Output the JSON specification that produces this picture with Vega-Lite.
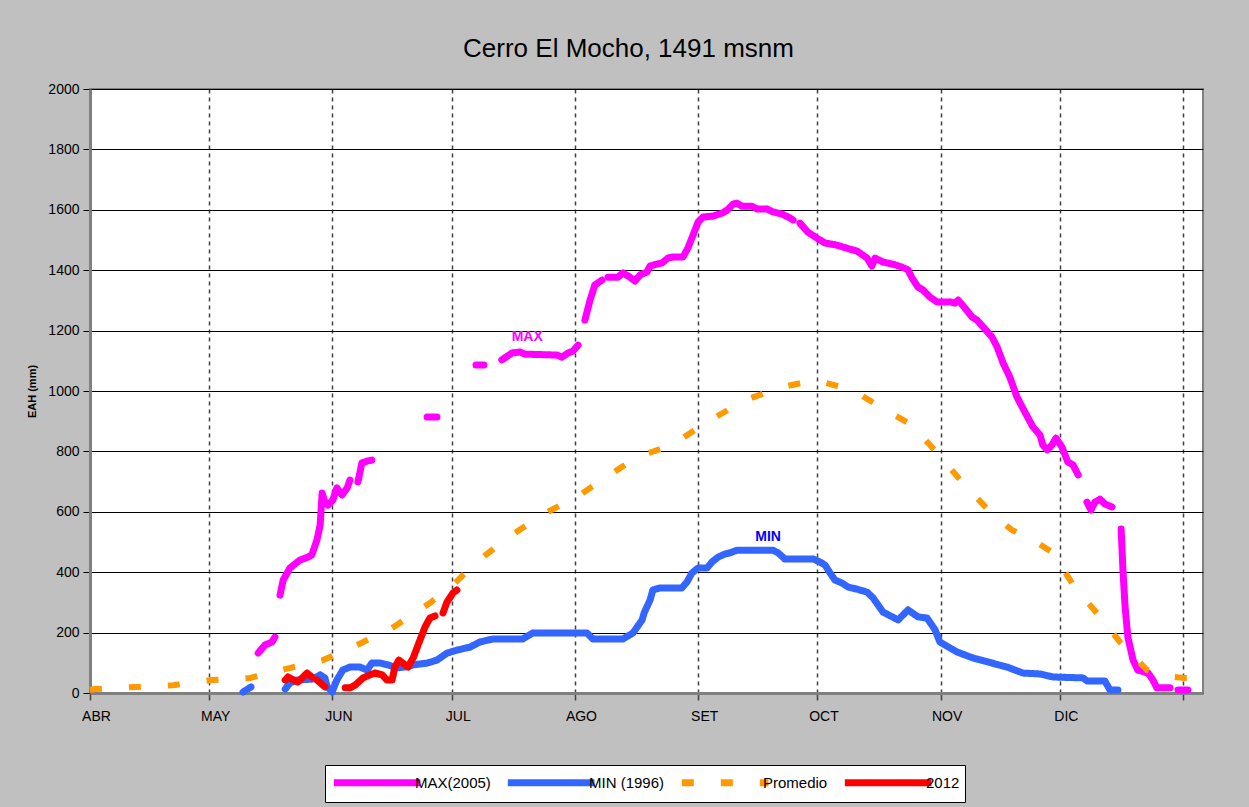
{
  "$schema": "https://vega.github.io/schema/vega-lite/v6.json",
  "width": 1113,
  "height": 604,
  "autosize": {"type": "none"},
  "padding": {"left": 90, "top": 89, "right": 46, "bottom": 114},
  "background": "#c0c0c0",
  "title": {"text": "Cerro El Mocho, 1491 msnm", "fontSize": 26, "font": "Liberation Sans", "fontWeight": "normal", "color": "#000000", "anchor": "middle", "frame": "group", "offset": 20, "dx": -18},
  "config": {"view": {"fill": "white", "stroke": "#808080", "strokeWidth": 2}, "font": "Liberation Sans"},
  "datasets": {
    "series": [
      {"serie": "MAX(2005)", "tramo": "m1", "dia": 42.3, "valor": 132}, {"serie": "MAX(2005)", "tramo": "m1", "dia": 44.0, "valor": 159}, {"serie": "MAX(2005)", "tramo": "m1", "dia": 45.8, "valor": 169}, {"serie": "MAX(2005)", "tramo": "m1", "dia": 46.5, "valor": 185},
      {"serie": "MAX(2005)", "tramo": "m2", "dia": 47.8, "valor": 324}, {"serie": "MAX(2005)", "tramo": "m2", "dia": 48.6, "valor": 374}, {"serie": "MAX(2005)", "tramo": "m2", "dia": 50.3, "valor": 414}, {"serie": "MAX(2005)", "tramo": "m2", "dia": 52.8, "valor": 440}, {"serie": "MAX(2005)", "tramo": "m2", "dia": 54.8, "valor": 450}, {"serie": "MAX(2005)", "tramo": "m2", "dia": 55.8, "valor": 457}, {"serie": "MAX(2005)", "tramo": "m2", "dia": 57.1, "valor": 507}, {"serie": "MAX(2005)", "tramo": "m2", "dia": 57.9, "valor": 556}, {"serie": "MAX(2005)", "tramo": "m2", "dia": 58.4, "valor": 662}, {"serie": "MAX(2005)", "tramo": "m2", "dia": 59.1, "valor": 632}, {"serie": "MAX(2005)", "tramo": "m2", "dia": 59.9, "valor": 622}, {"serie": "MAX(2005)", "tramo": "m2", "dia": 61.1, "valor": 639}, {"serie": "MAX(2005)", "tramo": "m2", "dia": 62.1, "valor": 679}, {"serie": "MAX(2005)", "tramo": "m2", "dia": 63.4, "valor": 656}, {"serie": "MAX(2005)", "tramo": "m2", "dia": 64.7, "valor": 679}, {"serie": "MAX(2005)", "tramo": "m2", "dia": 65.4, "valor": 705},
      {"serie": "MAX(2005)", "tramo": "m3", "dia": 67.4, "valor": 699}, {"serie": "MAX(2005)", "tramo": "m3", "dia": 68.4, "valor": 762}, {"serie": "MAX(2005)", "tramo": "m3", "dia": 69.7, "valor": 768}, {"serie": "MAX(2005)", "tramo": "m3", "dia": 70.9, "valor": 771},
      {"serie": "MAX(2005)", "tramo": "m4", "dia": 84.8, "valor": 914}, {"serie": "MAX(2005)", "tramo": "m4", "dia": 87.3, "valor": 914},
      {"serie": "MAX(2005)", "tramo": "m5", "dia": 97.1, "valor": 1086}, {"serie": "MAX(2005)", "tramo": "m5", "dia": 99.1, "valor": 1086},
      {"serie": "MAX(2005)", "tramo": "m6", "dia": 103.6, "valor": 1103}, {"serie": "MAX(2005)", "tramo": "m6", "dia": 106.2, "valor": 1126}, {"serie": "MAX(2005)", "tramo": "m6", "dia": 108.2, "valor": 1129}, {"serie": "MAX(2005)", "tramo": "m6", "dia": 109.4, "valor": 1122}, {"serie": "MAX(2005)", "tramo": "m6", "dia": 117.5, "valor": 1119}, {"serie": "MAX(2005)", "tramo": "m6", "dia": 118.7, "valor": 1112}, {"serie": "MAX(2005)", "tramo": "m6", "dia": 120.3, "valor": 1126}, {"serie": "MAX(2005)", "tramo": "m6", "dia": 121.5, "valor": 1132}, {"serie": "MAX(2005)", "tramo": "m6", "dia": 122.8, "valor": 1152},
      {"serie": "MAX(2005)", "tramo": "m7", "dia": 124.5, "valor": 1235}, {"serie": "MAX(2005)", "tramo": "m7", "dia": 125.8, "valor": 1301}, {"serie": "MAX(2005)", "tramo": "m7", "dia": 127.0, "valor": 1351}, {"serie": "MAX(2005)", "tramo": "m7", "dia": 128.8, "valor": 1367},
      {"serie": "MAX(2005)", "tramo": "m8", "dia": 130.3, "valor": 1377}, {"serie": "MAX(2005)", "tramo": "m8", "dia": 132.8, "valor": 1377}, {"serie": "MAX(2005)", "tramo": "m8", "dia": 134.1, "valor": 1391}, {"serie": "MAX(2005)", "tramo": "m8", "dia": 135.8, "valor": 1377}, {"serie": "MAX(2005)", "tramo": "m8", "dia": 137.1, "valor": 1364}, {"serie": "MAX(2005)", "tramo": "m8", "dia": 138.4, "valor": 1384}, {"serie": "MAX(2005)", "tramo": "m8", "dia": 140.1, "valor": 1394}, {"serie": "MAX(2005)", "tramo": "m8", "dia": 140.9, "valor": 1414}, {"serie": "MAX(2005)", "tramo": "m8", "dia": 142.6, "valor": 1420}, {"serie": "MAX(2005)", "tramo": "m8", "dia": 143.9, "valor": 1424}, {"serie": "MAX(2005)", "tramo": "m8", "dia": 145.4, "valor": 1440}, {"serie": "MAX(2005)", "tramo": "m8", "dia": 146.7, "valor": 1444}, {"serie": "MAX(2005)", "tramo": "m8", "dia": 149.2, "valor": 1444}, {"serie": "MAX(2005)", "tramo": "m8", "dia": 150.4, "valor": 1473}, {"serie": "MAX(2005)", "tramo": "m8", "dia": 151.7, "valor": 1516}, {"serie": "MAX(2005)", "tramo": "m8", "dia": 153.0, "valor": 1560}, {"serie": "MAX(2005)", "tramo": "m8", "dia": 154.2, "valor": 1576}, {"serie": "MAX(2005)", "tramo": "m8", "dia": 156.7, "valor": 1579}, {"serie": "MAX(2005)", "tramo": "m8", "dia": 159.0, "valor": 1589}, {"serie": "MAX(2005)", "tramo": "m8", "dia": 160.3, "valor": 1599}, {"serie": "MAX(2005)", "tramo": "m8", "dia": 161.8, "valor": 1619}, {"serie": "MAX(2005)", "tramo": "m8", "dia": 162.8, "valor": 1622}, {"serie": "MAX(2005)", "tramo": "m8", "dia": 164.0, "valor": 1612}, {"serie": "MAX(2005)", "tramo": "m8", "dia": 166.5, "valor": 1612}, {"serie": "MAX(2005)", "tramo": "m8", "dia": 167.8, "valor": 1603}, {"serie": "MAX(2005)", "tramo": "m8", "dia": 170.3, "valor": 1603}, {"serie": "MAX(2005)", "tramo": "m8", "dia": 171.8, "valor": 1593}, {"serie": "MAX(2005)", "tramo": "m8", "dia": 174.1, "valor": 1586}, {"serie": "MAX(2005)", "tramo": "m8", "dia": 176.1, "valor": 1573}, {"serie": "MAX(2005)", "tramo": "m8", "dia": 176.9, "valor": 1566},
      {"serie": "MAX(2005)", "tramo": "m9", "dia": 178.6, "valor": 1556}, {"serie": "MAX(2005)", "tramo": "m9", "dia": 180.6, "valor": 1526}, {"serie": "MAX(2005)", "tramo": "m9", "dia": 182.9, "valor": 1506}, {"serie": "MAX(2005)", "tramo": "m9", "dia": 184.9, "valor": 1490}, {"serie": "MAX(2005)", "tramo": "m9", "dia": 187.9, "valor": 1483}, {"serie": "MAX(2005)", "tramo": "m9", "dia": 190.4, "valor": 1473}, {"serie": "MAX(2005)", "tramo": "m9", "dia": 193.0, "valor": 1463}, {"serie": "MAX(2005)", "tramo": "m9", "dia": 195.5, "valor": 1440}, {"serie": "MAX(2005)", "tramo": "m9", "dia": 196.7, "valor": 1414}, {"serie": "MAX(2005)", "tramo": "m9", "dia": 197.5, "valor": 1440}, {"serie": "MAX(2005)", "tramo": "m9", "dia": 199.5, "valor": 1427}, {"serie": "MAX(2005)", "tramo": "m9", "dia": 202.0, "valor": 1420}, {"serie": "MAX(2005)", "tramo": "m9", "dia": 204.3, "valor": 1410}, {"serie": "MAX(2005)", "tramo": "m9", "dia": 205.8, "valor": 1401}, {"serie": "MAX(2005)", "tramo": "m9", "dia": 206.8, "valor": 1374}, {"serie": "MAX(2005)", "tramo": "m9", "dia": 208.3, "valor": 1344}, {"serie": "MAX(2005)", "tramo": "m9", "dia": 209.6, "valor": 1334}, {"serie": "MAX(2005)", "tramo": "m9", "dia": 211.3, "valor": 1311}, {"serie": "MAX(2005)", "tramo": "m9", "dia": 213.1, "valor": 1295}, {"serie": "MAX(2005)", "tramo": "m9", "dia": 216.4, "valor": 1295}, {"serie": "MAX(2005)", "tramo": "m9", "dia": 217.6, "valor": 1291}, {"serie": "MAX(2005)", "tramo": "m9", "dia": 218.4, "valor": 1301}, {"serie": "MAX(2005)", "tramo": "m9", "dia": 220.1, "valor": 1275}, {"serie": "MAX(2005)", "tramo": "m9", "dia": 221.9, "valor": 1245}, {"serie": "MAX(2005)", "tramo": "m9", "dia": 223.1, "valor": 1235}, {"serie": "MAX(2005)", "tramo": "m9", "dia": 224.7, "valor": 1212}, {"serie": "MAX(2005)", "tramo": "m9", "dia": 226.9, "valor": 1179}, {"serie": "MAX(2005)", "tramo": "m9", "dia": 228.2, "valor": 1146}, {"serie": "MAX(2005)", "tramo": "m9", "dia": 229.7, "valor": 1093}, {"serie": "MAX(2005)", "tramo": "m9", "dia": 231.4, "valor": 1046}, {"serie": "MAX(2005)", "tramo": "m9", "dia": 233.2, "valor": 980}, {"serie": "MAX(2005)", "tramo": "m9", "dia": 235.2, "valor": 930}, {"serie": "MAX(2005)", "tramo": "m9", "dia": 237.2, "valor": 881}, {"serie": "MAX(2005)", "tramo": "m9", "dia": 239.0, "valor": 854}, {"serie": "MAX(2005)", "tramo": "m9", "dia": 239.7, "valor": 821}, {"serie": "MAX(2005)", "tramo": "m9", "dia": 240.8, "valor": 805}, {"serie": "MAX(2005)", "tramo": "m9", "dia": 242.0, "valor": 821}, {"serie": "MAX(2005)", "tramo": "m9", "dia": 243.0, "valor": 844}, {"serie": "MAX(2005)", "tramo": "m9", "dia": 244.5, "valor": 815}, {"serie": "MAX(2005)", "tramo": "m9", "dia": 246.0, "valor": 765}, {"serie": "MAX(2005)", "tramo": "m9", "dia": 247.3, "valor": 755}, {"serie": "MAX(2005)", "tramo": "m9", "dia": 248.6, "valor": 722},
      {"serie": "MAX(2005)", "tramo": "m10", "dia": 250.8, "valor": 632}, {"serie": "MAX(2005)", "tramo": "m10", "dia": 251.8, "valor": 606}, {"serie": "MAX(2005)", "tramo": "m10", "dia": 252.8, "valor": 632}, {"serie": "MAX(2005)", "tramo": "m10", "dia": 254.1, "valor": 642}, {"serie": "MAX(2005)", "tramo": "m10", "dia": 255.3, "valor": 626}, {"serie": "MAX(2005)", "tramo": "m10", "dia": 257.1, "valor": 616},
      {"serie": "MAX(2005)", "tramo": "m11", "dia": 259.4, "valor": 543}, {"serie": "MAX(2005)", "tramo": "m11", "dia": 259.9, "valor": 397}, {"serie": "MAX(2005)", "tramo": "m11", "dia": 260.4, "valor": 285}, {"serie": "MAX(2005)", "tramo": "m11", "dia": 261.1, "valor": 185}, {"serie": "MAX(2005)", "tramo": "m11", "dia": 262.4, "valor": 109}, {"serie": "MAX(2005)", "tramo": "m11", "dia": 263.6, "valor": 76}, {"serie": "MAX(2005)", "tramo": "m11", "dia": 266.2, "valor": 66}, {"serie": "MAX(2005)", "tramo": "m11", "dia": 267.4, "valor": 43}, {"serie": "MAX(2005)", "tramo": "m11", "dia": 268.4, "valor": 17}, {"serie": "MAX(2005)", "tramo": "m11", "dia": 271.7, "valor": 17},
      {"serie": "MAX(2005)", "tramo": "m12", "dia": 273.7, "valor": 10}, {"serie": "MAX(2005)", "tramo": "m12", "dia": 276.2, "valor": 10},
      {"serie": "MIN (1996)", "tramo": "n1", "dia": 38.5, "valor": 3}, {"serie": "MIN (1996)", "tramo": "n1", "dia": 40.5, "valor": 20},
      {"serie": "MIN (1996)", "tramo": "n2", "dia": 49.1, "valor": 13}, {"serie": "MIN (1996)", "tramo": "n2", "dia": 50.3, "valor": 33}, {"serie": "MIN (1996)", "tramo": "n2", "dia": 52.1, "valor": 43}, {"serie": "MIN (1996)", "tramo": "n2", "dia": 56.1, "valor": 46}, {"serie": "MIN (1996)", "tramo": "n2", "dia": 57.9, "valor": 60}, {"serie": "MIN (1996)", "tramo": "n2", "dia": 59.1, "valor": 50}, {"serie": "MIN (1996)", "tramo": "n2", "dia": 59.6, "valor": 23}, {"serie": "MIN (1996)", "tramo": "n2", "dia": 60.9, "valor": 3}, {"serie": "MIN (1996)", "tramo": "n2", "dia": 62.1, "valor": 43}, {"serie": "MIN (1996)", "tramo": "n2", "dia": 63.6, "valor": 76}, {"serie": "MIN (1996)", "tramo": "n2", "dia": 65.4, "valor": 86}, {"serie": "MIN (1996)", "tramo": "n2", "dia": 67.9, "valor": 86}, {"serie": "MIN (1996)", "tramo": "n2", "dia": 69.7, "valor": 76}, {"serie": "MIN (1996)", "tramo": "n2", "dia": 70.9, "valor": 99}, {"serie": "MIN (1996)", "tramo": "n2", "dia": 73.0, "valor": 99}, {"serie": "MIN (1996)", "tramo": "n2", "dia": 75.0, "valor": 93}, {"serie": "MIN (1996)", "tramo": "n2", "dia": 77.2, "valor": 83}, {"serie": "MIN (1996)", "tramo": "n2", "dia": 79.2, "valor": 86}, {"serie": "MIN (1996)", "tramo": "n2", "dia": 81.3, "valor": 93}, {"serie": "MIN (1996)", "tramo": "n2", "dia": 84.8, "valor": 99}, {"serie": "MIN (1996)", "tramo": "n2", "dia": 87.3, "valor": 109}, {"serie": "MIN (1996)", "tramo": "n2", "dia": 89.8, "valor": 132}, {"serie": "MIN (1996)", "tramo": "n2", "dia": 92.3, "valor": 142}, {"serie": "MIN (1996)", "tramo": "n2", "dia": 95.6, "valor": 152}, {"serie": "MIN (1996)", "tramo": "n2", "dia": 98.1, "valor": 169}, {"serie": "MIN (1996)", "tramo": "n2", "dia": 101.4, "valor": 179}, {"serie": "MIN (1996)", "tramo": "n2", "dia": 108.9, "valor": 179}, {"serie": "MIN (1996)", "tramo": "n2", "dia": 111.4, "valor": 199}, {"serie": "MIN (1996)", "tramo": "n2", "dia": 125.0, "valor": 199}, {"serie": "MIN (1996)", "tramo": "n2", "dia": 126.5, "valor": 179}, {"serie": "MIN (1996)", "tramo": "n2", "dia": 134.1, "valor": 179}, {"serie": "MIN (1996)", "tramo": "n2", "dia": 136.6, "valor": 199}, {"serie": "MIN (1996)", "tramo": "n2", "dia": 138.9, "valor": 242}, {"serie": "MIN (1996)", "tramo": "n2", "dia": 139.4, "valor": 265}, {"serie": "MIN (1996)", "tramo": "n2", "dia": 140.9, "valor": 308}, {"serie": "MIN (1996)", "tramo": "n2", "dia": 141.6, "valor": 341}, {"serie": "MIN (1996)", "tramo": "n2", "dia": 143.4, "valor": 348}, {"serie": "MIN (1996)", "tramo": "n2", "dia": 148.9, "valor": 348}, {"serie": "MIN (1996)", "tramo": "n2", "dia": 150.2, "valor": 368}, {"serie": "MIN (1996)", "tramo": "n2", "dia": 151.4, "valor": 397}, {"serie": "MIN (1996)", "tramo": "n2", "dia": 153.0, "valor": 414}, {"serie": "MIN (1996)", "tramo": "n2", "dia": 155.2, "valor": 414}, {"serie": "MIN (1996)", "tramo": "n2", "dia": 156.5, "valor": 434}, {"serie": "MIN (1996)", "tramo": "n2", "dia": 158.0, "valor": 450}, {"serie": "MIN (1996)", "tramo": "n2", "dia": 159.7, "valor": 460}, {"serie": "MIN (1996)", "tramo": "n2", "dia": 161.0, "valor": 464}, {"serie": "MIN (1996)", "tramo": "n2", "dia": 162.8, "valor": 473}, {"serie": "MIN (1996)", "tramo": "n2", "dia": 171.8, "valor": 473}, {"serie": "MIN (1996)", "tramo": "n2", "dia": 173.1, "valor": 464}, {"serie": "MIN (1996)", "tramo": "n2", "dia": 174.8, "valor": 444}, {"serie": "MIN (1996)", "tramo": "n2", "dia": 181.9, "valor": 444}, {"serie": "MIN (1996)", "tramo": "n2", "dia": 183.6, "valor": 434}, {"serie": "MIN (1996)", "tramo": "n2", "dia": 184.9, "valor": 424}, {"serie": "MIN (1996)", "tramo": "n2", "dia": 186.2, "valor": 397}, {"serie": "MIN (1996)", "tramo": "n2", "dia": 187.4, "valor": 374}, {"serie": "MIN (1996)", "tramo": "n2", "dia": 189.2, "valor": 364}, {"serie": "MIN (1996)", "tramo": "n2", "dia": 190.7, "valor": 351}, {"serie": "MIN (1996)", "tramo": "n2", "dia": 192.9, "valor": 344}, {"serie": "MIN (1996)", "tramo": "n2", "dia": 195.5, "valor": 334}, {"serie": "MIN (1996)", "tramo": "n2", "dia": 197.0, "valor": 315}, {"serie": "MIN (1996)", "tramo": "n2", "dia": 199.5, "valor": 268}, {"serie": "MIN (1996)", "tramo": "n2", "dia": 203.3, "valor": 242}, {"serie": "MIN (1996)", "tramo": "n2", "dia": 205.8, "valor": 275}, {"serie": "MIN (1996)", "tramo": "n2", "dia": 208.3, "valor": 252}, {"serie": "MIN (1996)", "tramo": "n2", "dia": 210.6, "valor": 248}, {"serie": "MIN (1996)", "tramo": "n2", "dia": 212.6, "valor": 209}, {"serie": "MIN (1996)", "tramo": "n2", "dia": 213.8, "valor": 169}, {"serie": "MIN (1996)", "tramo": "n2", "dia": 218.1, "valor": 136}, {"serie": "MIN (1996)", "tramo": "n2", "dia": 222.1, "valor": 116}, {"serie": "MIN (1996)", "tramo": "n2", "dia": 230.7, "valor": 86}, {"serie": "MIN (1996)", "tramo": "n2", "dia": 234.7, "valor": 66}, {"serie": "MIN (1996)", "tramo": "n2", "dia": 239.0, "valor": 63}, {"serie": "MIN (1996)", "tramo": "n2", "dia": 242.3, "valor": 53}, {"serie": "MIN (1996)", "tramo": "n2", "dia": 249.8, "valor": 50}, {"serie": "MIN (1996)", "tramo": "n2", "dia": 250.8, "valor": 40}, {"serie": "MIN (1996)", "tramo": "n2", "dia": 255.3, "valor": 40}, {"serie": "MIN (1996)", "tramo": "n2", "dia": 256.6, "valor": 10}, {"serie": "MIN (1996)", "tramo": "n2", "dia": 258.6, "valor": 10},
      {"serie": "Promedio", "tramo": "p1", "dia": 0, "valor": 10}, {"serie": "Promedio", "tramo": "p1", "dia": 1.3, "valor": 13}, {"serie": "Promedio", "tramo": "p1", "dia": 11.8, "valor": 20}, {"serie": "Promedio", "tramo": "p1", "dia": 20.9, "valor": 26}, {"serie": "Promedio", "tramo": "p1", "dia": 30.7, "valor": 43}, {"serie": "Promedio", "tramo": "p1", "dia": 40.3, "valor": 50}, {"serie": "Promedio", "tramo": "p1", "dia": 49.1, "valor": 79}, {"serie": "Promedio", "tramo": "p1", "dia": 58.6, "valor": 109}, {"serie": "Promedio", "tramo": "p1", "dia": 67.2, "valor": 159}, {"serie": "Promedio", "tramo": "p1", "dia": 76.0, "valor": 215}, {"serie": "Promedio", "tramo": "p1", "dia": 85.5, "valor": 298}, {"serie": "Promedio", "tramo": "p1", "dia": 91.8, "valor": 364}, {"serie": "Promedio", "tramo": "p1", "dia": 96.9, "valor": 430}, {"serie": "Promedio", "tramo": "p1", "dia": 104.4, "valor": 507}, {"serie": "Promedio", "tramo": "p1", "dia": 113.2, "valor": 586}, {"serie": "Promedio", "tramo": "p1", "dia": 122.8, "valor": 652}, {"serie": "Promedio", "tramo": "p1", "dia": 129.6, "valor": 712}, {"serie": "Promedio", "tramo": "p1", "dia": 137.6, "valor": 781}, {"serie": "Promedio", "tramo": "p1", "dia": 146.4, "valor": 821}, {"serie": "Promedio", "tramo": "p1", "dia": 155.2, "valor": 897}, {"serie": "Promedio", "tramo": "p1", "dia": 164.8, "valor": 970}, {"serie": "Promedio", "tramo": "p1", "dia": 174.1, "valor": 1013}, {"serie": "Promedio", "tramo": "p1", "dia": 182.4, "valor": 1036}, {"serie": "Promedio", "tramo": "p1", "dia": 191.9, "valor": 1003}, {"serie": "Promedio", "tramo": "p1", "dia": 198.0, "valor": 954}, {"serie": "Promedio", "tramo": "p1", "dia": 206.8, "valor": 887}, {"serie": "Promedio", "tramo": "p1", "dia": 213.1, "valor": 795}, {"serie": "Promedio", "tramo": "p1", "dia": 219.6, "valor": 695}, {"serie": "Promedio", "tramo": "p1", "dia": 227.2, "valor": 589}, {"serie": "Promedio", "tramo": "p1", "dia": 231.9, "valor": 540}, {"serie": "Promedio", "tramo": "p1", "dia": 236.5, "valor": 513}, {"serie": "Promedio", "tramo": "p1", "dia": 242.3, "valor": 464}, {"serie": "Promedio", "tramo": "p1", "dia": 247.8, "valor": 348}, {"serie": "Promedio", "tramo": "p1", "dia": 253.3, "valor": 265}, {"serie": "Promedio", "tramo": "p1", "dia": 259.1, "valor": 169}, {"serie": "Promedio", "tramo": "p1", "dia": 265.9, "valor": 76}, {"serie": "Promedio", "tramo": "p1", "dia": 270.4, "valor": 56}, {"serie": "Promedio", "tramo": "p1", "dia": 275.3, "valor": 50}, {"serie": "Promedio", "tramo": "p1", "dia": 276.7, "valor": 50},
      {"serie": "2012", "tramo": "r1", "dia": 49.1, "valor": 43}, {"serie": "2012", "tramo": "r1", "dia": 49.8, "valor": 53}, {"serie": "2012", "tramo": "r1", "dia": 52.3, "valor": 36}, {"serie": "2012", "tramo": "r1", "dia": 54.6, "valor": 66}, {"serie": "2012", "tramo": "r1", "dia": 55.8, "valor": 53},
      {"serie": "2012", "tramo": "r2", "dia": 57.1, "valor": 43}, {"serie": "2012", "tramo": "r2", "dia": 59.1, "valor": 20},
      {"serie": "2012", "tramo": "r3", "dia": 64.2, "valor": 17}, {"serie": "2012", "tramo": "r3", "dia": 65.4, "valor": 17}, {"serie": "2012", "tramo": "r3", "dia": 66.7, "valor": 26}, {"serie": "2012", "tramo": "r3", "dia": 68.7, "valor": 50}, {"serie": "2012", "tramo": "r3", "dia": 70.4, "valor": 60}, {"serie": "2012", "tramo": "r3", "dia": 71.7, "valor": 66}, {"serie": "2012", "tramo": "r3", "dia": 73.5, "valor": 60}, {"serie": "2012", "tramo": "r3", "dia": 74.7, "valor": 43}, {"serie": "2012", "tramo": "r3", "dia": 76.0, "valor": 43}, {"serie": "2012", "tramo": "r3", "dia": 76.7, "valor": 86}, {"serie": "2012", "tramo": "r3", "dia": 77.7, "valor": 109}, {"serie": "2012", "tramo": "r3", "dia": 78.7, "valor": 99}, {"serie": "2012", "tramo": "r3", "dia": 80.0, "valor": 86}, {"serie": "2012", "tramo": "r3", "dia": 81.3, "valor": 116}, {"serie": "2012", "tramo": "r3", "dia": 83.0, "valor": 175}, {"serie": "2012", "tramo": "r3", "dia": 84.3, "valor": 219}, {"serie": "2012", "tramo": "r3", "dia": 85.5, "valor": 248}, {"serie": "2012", "tramo": "r3", "dia": 86.8, "valor": 255},
      {"serie": "2012", "tramo": "r4", "dia": 88.8, "valor": 265}, {"serie": "2012", "tramo": "r4", "dia": 89.8, "valor": 301}, {"serie": "2012", "tramo": "r4", "dia": 91.3, "valor": 331}, {"serie": "2012", "tramo": "r4", "dia": 92.3, "valor": 341}
    ],
    "etiquetas": [
      {"texto": "MAX", "dia": 110, "valor": 1180},
      {"texto": "MIN", "dia": 170.6, "valor": 517}
    ]
  },
  "encoding": {
    "x": {
      "field": "dia", "type": "quantitative",
      "scale": {"domain": [0, 280], "nice": false, "zero": false},
      "axis": {
        "values": [0, 30, 61, 91, 122, 153, 183, 214, 244, 275],
        "labelExpr": "['ABR','MAY','JUN','JUL','AGO','SET','OCT','NOV','DIC',''][indexof([0,30,61,91,122,153,183,214,244,275], datum.value)]",
        "title": null, "labelFont": "Liberation Sans", "labelFontSize": 14, "labelColor": "#000000",
        "labelFlush": false, "labelOverlap": false, "labelOffset": 6, "labelPadding": 9,
        "tickSize": 7, "tickColor": "#404040", "tickWidth": 1.5,
        "domainColor": "#808080", "domainWidth": 3,
        "grid": true, "gridColor": "#404040", "gridDash": [4, 4], "gridWidth": 1.5
      }
    },
    "y": {
      "field": "valor", "type": "quantitative",
      "scale": {"domain": [0, 2000], "nice": false},
      "axis": {
        "values": [0, 200, 400, 600, 800, 1000, 1200, 1400, 1600, 1800, 2000],
        "format": "d",
        "title": "EAH (mm)", "titleFont": "Liberation Sans", "titleFontSize": 11, "titleFontWeight": "bold", "titleColor": "#000000", "titlePadding": 10,
        "labelFont": "Liberation Sans", "labelFontSize": 14, "labelColor": "#000000", "labelPadding": 4,
        "tickSize": 7, "tickColor": "#000000", "tickWidth": 1,
        "domainColor": "#808080", "domainWidth": 3,
        "grid": true, "gridColor": "#000000", "gridWidth": 1
      }
    }
  },
  "layer": [
    {
      "data": {"name": "series"},
      "transform": [{"filter": "datum.serie == 'MAX(2005)' || datum.serie == 'MIN (1996)'"}],
      "mark": {"type": "line", "strokeWidth": 7, "strokeCap": "round", "strokeJoin": "round"},
      "encoding": {
        "color": {"field": "serie", "type": "nominal",
          "scale": {"domain": ["MAX(2005)", "MIN (1996)", "Promedio", "2012"], "range": ["#FF00FF", "#3366FF", "#FF9900", "#FF0000"]},
          "legend": {"orient": "none", "legendX": 235, "legendY": 676, "direction": "horizontal", "title": null, "symbolType": "M-1,0H9", "symbolSize": 300, "symbolStrokeWidth": 7, "labelFont": "Liberation Sans", "labelFontSize": 15, "labelColor": "#000000", "labelOffset": 60, "columnPadding": 2, "padding": 5, "fillColor": "white", "strokeColor": "#000000", "labelLimit": 0}},
        "strokeDash": {"field": "serie", "type": "nominal",
          "scale": {"domain": ["MAX(2005)", "MIN (1996)", "Promedio", "2012"], "range": [[1, 0], [1, 0], [12, 27], [1, 0]]},
          "legend": {"orient": "none", "legendX": 235, "legendY": 676, "direction": "horizontal", "title": null, "symbolType": "M-1,0H9", "symbolSize": 300, "symbolStrokeWidth": 7, "labelFont": "Liberation Sans", "labelFontSize": 15, "labelColor": "#000000", "labelOffset": 60, "columnPadding": 2, "padding": 5, "fillColor": "white", "strokeColor": "#000000", "labelLimit": 0}},
        "detail": {"field": "tramo", "type": "nominal"}
      }
    },
    {
      "data": {"name": "series"},
      "transform": [{"filter": "datum.serie == 'Promedio'"}],
      "mark": {"type": "line", "strokeWidth": 6, "strokeCap": "butt"},
      "encoding": {
        "color": {"field": "serie", "type": "nominal"},
        "strokeDash": {"field": "serie", "type": "nominal"},
        "detail": {"field": "tramo", "type": "nominal"}
      }
    },
    {
      "data": {"name": "series"},
      "transform": [{"filter": "datum.serie == '2012'"}],
      "mark": {"type": "line", "strokeWidth": 7, "strokeCap": "round", "strokeJoin": "round"},
      "encoding": {
        "color": {"field": "serie", "type": "nominal"},
        "strokeDash": {"field": "serie", "type": "nominal"},
        "detail": {"field": "tramo", "type": "nominal"}
      }
    },
    {
      "data": {"name": "etiquetas"},
      "transform": [{"filter": "datum.texto == 'MAX'"}],
      "mark": {"type": "text", "font": "Liberation Sans", "fontSize": 14, "fontWeight": "bold", "color": "#FF00FF"},
      "encoding": {"text": {"field": "texto"}}
    },
    {
      "data": {"name": "etiquetas"},
      "transform": [{"filter": "datum.texto == 'MIN'"}],
      "mark": {"type": "text", "font": "Liberation Sans", "fontSize": 14, "fontWeight": "bold", "color": "#0000FF"},
      "encoding": {"text": {"field": "texto"}}
    }
  ]
}
